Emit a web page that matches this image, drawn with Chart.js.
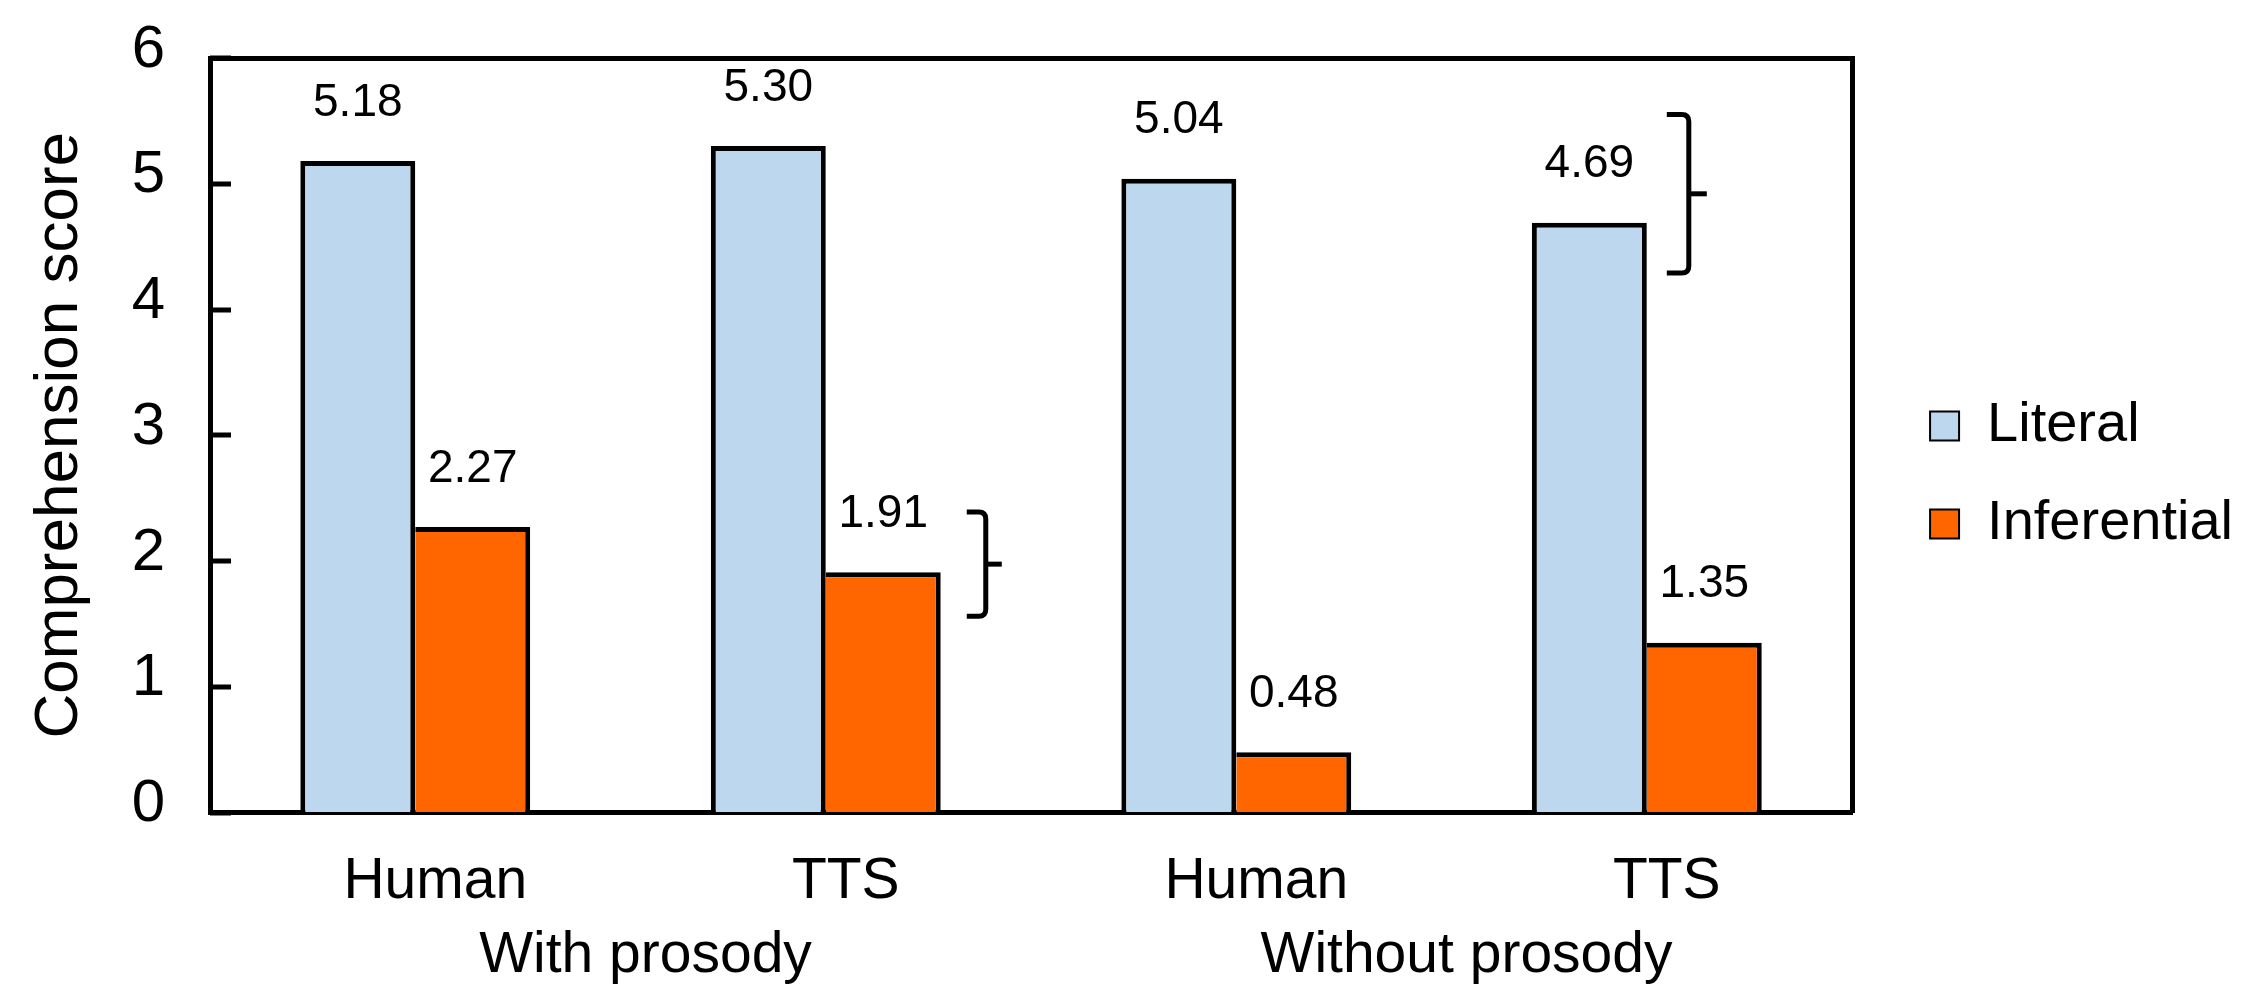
<!DOCTYPE html>
<html>
<head>
<meta charset="utf-8">
<script src="https://cdn.jsdelivr.net/npm/chart.js@4.4.1/dist/chart.umd.min.js"></script>
<style>
  html, body { margin: 0; padding: 0; background: #ffffff; }
  #wrap { width: 2243px; height: 989px; position: relative; }
</style>
</head>
<body>
<div id="wrap"><canvas id="chart"></canvas></div>
<script>
// Comprehension scores by speech type and prosody condition
const categories = ['Human', 'TTS', 'Human', 'TTS'];
const groups = ['With prosody', 'Without prosody'];
const literalScores = [5.18, 5.30, 5.04, 4.69];
const inferentialScores = [2.27, 1.91, 0.48, 1.35];
const yTicks = [0, 1, 2, 3, 4, 5, 6];
// value ranges bracketed on the plot: [category index, low, high]
const bracketRanges = [[1, 1.56, 2.39], [3, 4.29, 5.55]];

const FONT = "'Liberation Sans', Arial, Helvetica, sans-serif";
Chart.defaults.font.family = FONT;
Chart.defaults.color = '#000000';

// horizontal placement of each bracket relative to its category centre
const bracketStyle = [
  { dx: 160, hook: 19, tip: 16 },
  { dx: 42, hook: 22, tip: 18 }
];

const annotationPlugin = {
  id: 'annotations',
  afterLayout(chart) {
    // keep the legend block a little above the vertical centre
    const lg = chart.legend;
    if (lg) {
      lg.bottom -= 39;
      lg.height -= 39;
    }
  },
  afterDatasetsDraw(chart) {
    const ctx = chart.ctx;
    const x = chart.scales.x, y = chart.scales.y;
    const area = chart.chartArea;
    ctx.save();
    // inward ticks on the value axis
    ctx.strokeStyle = '#000';
    ctx.lineWidth = 5;
    yTicks.forEach(v => {
      const py = Math.round(y.getPixelForValue(v));
      ctx.beginPath();
      ctx.moveTo(area.left, py);
      ctx.lineTo(area.left + 21, py);
      ctx.stroke();
    });
    // value labels above every bar
    ctx.font = '46px ' + FONT;
    ctx.fillStyle = '#000';
    ctx.textAlign = 'center';
    ctx.textBaseline = 'middle';
    chart.data.datasets.forEach((ds, di) => {
      const meta = chart.getDatasetMeta(di);
      meta.data.forEach((bar, i) => {
        ctx.fillText(ds.data[i].toFixed(2), bar.x, bar.y - 58);
      });
    });
    // curly brackets
    ctx.lineWidth = 5;
    ctx.lineCap = 'butt';
    bracketRanges.forEach((b, k) => {
      const st = bracketStyle[k];
      const sx = x.getPixelForValue(b[0]) + st.dx;
      const yTop = y.getPixelForValue(b[2]);
      const yBot = y.getPixelForValue(b[1]);
      const yMid = (yTop + yBot) / 2;
      const r = 7;
      ctx.beginPath();
      ctx.moveTo(sx - st.hook, yTop);
      ctx.lineTo(sx - r, yTop);
      ctx.quadraticCurveTo(sx, yTop, sx, yTop + r);
      ctx.lineTo(sx, yBot - r);
      ctx.quadraticCurveTo(sx, yBot, sx - r, yBot);
      ctx.lineTo(sx - st.hook, yBot);
      ctx.stroke();
      ctx.beginPath();
      ctx.moveTo(sx, yMid);
      ctx.lineTo(sx + st.tip, yMid);
      ctx.stroke();
    });
    ctx.restore();
  }
};

const frameBorder = { display: true, color: '#000000', width: 5 };
const hiddenGrid = { display: true, drawOnChartArea: false, drawTicks: false };

new Chart(document.getElementById('chart'), {
  type: 'bar',
  data: {
    labels: categories,
    datasets: [
      {
        label: 'Literal',
        data: literalScores,
        backgroundColor: '#BDD7EE',
        borderColor: '#000000',
        borderWidth: { top: 5, left: 5, right: 5, bottom: 0 },
        borderSkipped: false,
        categoryPercentage: 0.56,
        barPercentage: 1.0
      },
      {
        label: 'Inferential',
        data: inferentialScores,
        backgroundColor: '#FF6600',
        borderColor: '#000000',
        borderWidth: { top: 5, left: 0, right: 5, bottom: 0 },
        borderSkipped: false,
        categoryPercentage: 0.56,
        barPercentage: 1.0
      }
    ]
  },
  options: {
    responsive: true,
    maintainAspectRatio: false,
    animation: false,
    layout: { padding: { top: 0, left: 0, right: 0, bottom: 0 } },
    plugins: {
      tooltip: { enabled: false },
      legend: {
        position: 'right',
        align: 'center',
        labels: {
          color: '#000000',
          font: { size: 56, family: FONT },
          boxWidth: 29,
          boxHeight: 29,
          padding: 42,
          generateLabels(chart) {
            return Chart.defaults.plugins.legend.labels.generateLabels(chart).map(item => {
              item.lineWidth = 2;
              item.strokeStyle = '#000000';
              return item;
            });
          }
        }
      }
    },
    scales: {
      x: {
        type: 'category',
        position: 'bottom',
        offset: true,
        grid: hiddenGrid,
        border: frameBorder,
        ticks: { font: { size: 57 }, padding: 36, labelOffset: 20, maxRotation: 0, autoSkip: false },
        afterFit(scale) { scale.height = 108; }
      },
      x2: {
        type: 'category',
        position: 'bottom',
        weight: 1,
        labels: groups,
        offset: true,
        grid: { display: false, drawTicks: false },
        border: { display: false },
        ticks: { font: { size: 57 }, padding: 2, labelOffset: 25, maxRotation: 0, autoSkip: false },
        afterFit(scale) { scale.height = 68.5; }
      },
      xTop: {
        type: 'category',
        position: 'top',
        labels: categories,
        offset: true,
        grid: hiddenGrid,
        border: frameBorder,
        ticks: { display: false },
        afterFit(scale) { scale.height = 58; }
      },
      y: {
        type: 'linear',
        position: 'left',
        min: 0,
        max: 6,
        grid: hiddenGrid,
        border: frameBorder,
        ticks: {
          stepSize: 1,
          font: { size: 60 },
          padding: 45,
          labelOffset: -8,
          callback: (v) => yTicks.includes(v) ? String(v) : ''
        },
        title: {
          display: true,
          text: 'Comprehension score',
          font: { size: 62 },
          padding: { top: 23, bottom: 0 }
        },
        afterFit(scale) {
          scale.width = 210;
          scale.paddingTop = 0;
          scale.paddingBottom = 0;
        }
      },
      y2: {
        type: 'linear',
        position: 'right',
        grid: hiddenGrid,
        border: frameBorder,
        ticks: { display: false },
        afterFit(scale) { scale.width = 36; }
      }
    }
  },
  plugins: [annotationPlugin]
});
</script>
</body>
</html>
